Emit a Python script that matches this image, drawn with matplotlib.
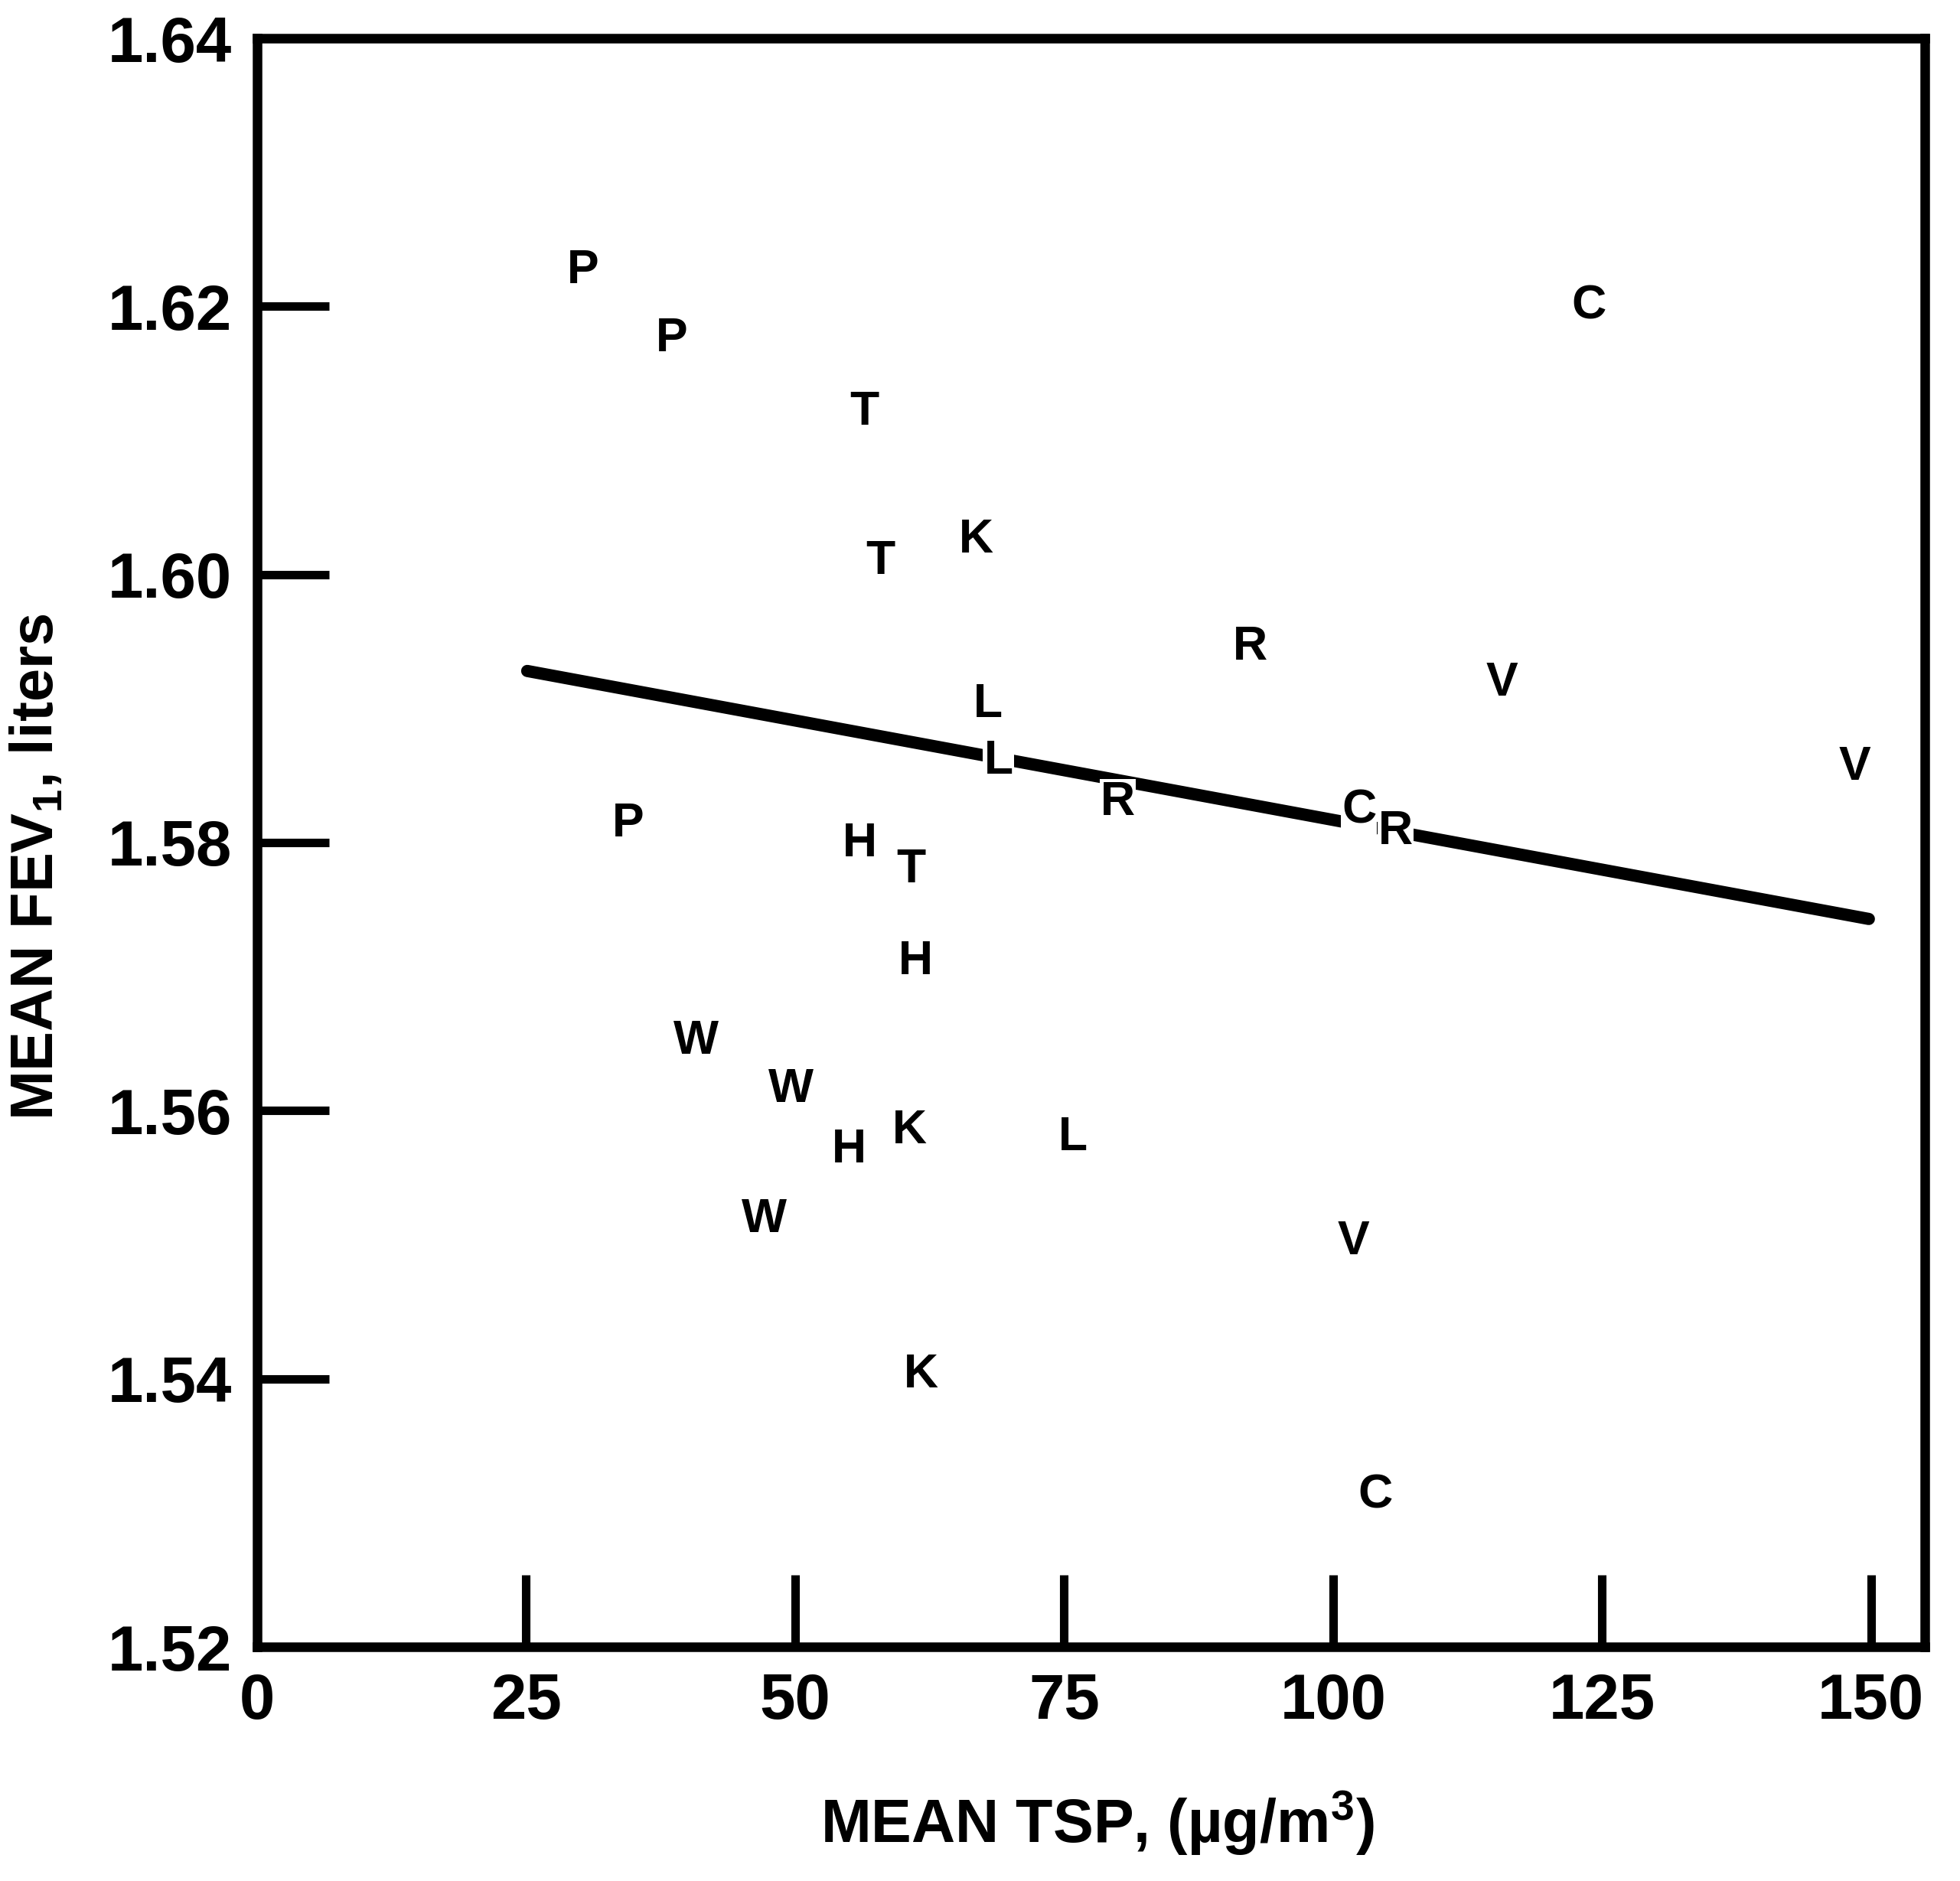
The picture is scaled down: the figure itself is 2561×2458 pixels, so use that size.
import matplotlib
matplotlib.use("Agg")
import matplotlib.pyplot as plt
from matplotlib.ticker import FixedLocator, NullFormatter

# ---- data ----
letters = ["P", "P", "T", "T", "K", "C", "R", "V", "V", "L", "L", "R", "C", "R",
           "P", "H", "T", "H", "W", "W", "H", "K", "L", "W", "V", "K", "C"]
tsp = [30.3, 38.5, 56.4, 57.9, 66.8, 123.8, 92.3, 115.7, 148.5, 67.9, 68.9, 80.0, 102.4, 105.8,
       34.5, 56.0, 60.8, 61.2, 40.8, 49.6, 55.0, 60.6, 75.8, 47.1, 101.9, 61.7, 103.9]
fev = [1.6227, 1.6176, 1.6121, 1.6010, 1.6026, 1.6200, 1.5946, 1.5919, 1.5856, 1.5903, 1.5861,
       1.5830, 1.5824, 1.5808, 1.5814, 1.5799, 1.5780, 1.5711, 1.5652, 1.5616, 1.5571, 1.5585,
       1.5580, 1.5519, 1.5502, 1.5403, 1.5313]

fit_x = [25.1, 149.8]
fit_y = [1.5928, 1.5743]

x_ticks = [0, 25, 50, 75, 100, 125, 150]
x_ticklabels = ["0", "25", "50", "75", "100", "125", "150"]
x_marks = [25, 50, 75, 100, 125, 150]
y_ticks = [1.52, 1.54, 1.56, 1.58, 1.60, 1.62, 1.64]
y_ticklabels = ["1.52", "1.54", "1.56", "1.58", "1.60", "1.62", "1.64"]
y_marks = [1.54, 1.56, 1.58, 1.60, 1.62]

x_label = "MEAN TSP, (\u00b5g/m$^3$)"
y_label = "MEAN FEV$_1$, liters"

# ---- style ----
plt.rcParams["font.family"] = ["Liberation Sans", "DejaVu Sans"]
plt.rcParams["font.weight"] = "bold"
plt.rcParams["mathtext.fontset"] = "custom"
plt.rcParams["mathtext.rm"] = "Liberation Sans:bold"
plt.rcParams["mathtext.bf"] = "Liberation Sans:bold"
plt.rcParams["mathtext.it"] = "Liberation Sans:bold"
plt.rcParams["mathtext.default"] = "rm"

W, H = 2561, 2458
fig = plt.figure(figsize=(W / 100, H / 100), dpi=100)
L, R, T, B = 336, 2515, 50, 2152
ax = fig.add_axes([L / W, 1 - B / H, (R - L) / W, (B - T) / H])

ax.set_xlim(0, 155)
ax.set_ylim(1.52, 1.64)

for s in ax.spines.values():
    s.set_linewidth(9)
    s.set_color("black")

# labelled major ticks (no marks), unlabelled long inward minor marks
ax.xaxis.remove_overlapping_locs = False
ax.yaxis.remove_overlapping_locs = False
ax.xaxis.set_major_locator(FixedLocator(x_ticks))
ax.set_xticklabels(x_ticklabels)
ax.yaxis.set_major_locator(FixedLocator(y_ticks))
ax.set_yticklabels(y_ticklabels)
ax.xaxis.set_minor_locator(FixedLocator(x_marks))
ax.yaxis.set_minor_locator(FixedLocator(y_marks))
ax.xaxis.set_minor_formatter(NullFormatter())
ax.yaxis.set_minor_formatter(NullFormatter())
ax.tick_params(which="major", length=0, labelsize=60, pad=24)
ax.tick_params(which="minor", direction="in", length=68, width=8, color="black")
for lab in ax.get_xticklabels() + ax.get_yticklabels():
    lab.set_fontweight("bold")

ax.set_xlabel(x_label, fontsize=57, fontweight="bold")
ax.set_ylabel(y_label, fontsize=56, fontweight="bold")
ax.xaxis.set_label_coords(0.504, -0.088)
ax.yaxis.set_label_coords(-0.115, 0.485)

ax.plot(fit_x, fit_y, color="black", linewidth=11.5, solid_capstyle="round", zorder=2)

for lt, xv, yv in zip(letters, tsp, fev):
    ax.text(xv, yv, lt, ha="center", va="center", fontsize=45, fontweight="bold",
            zorder=3, bbox=dict(facecolor="white", edgecolor="none", pad=1))

fig.savefig("out.png", dpi=100, facecolor="white")
